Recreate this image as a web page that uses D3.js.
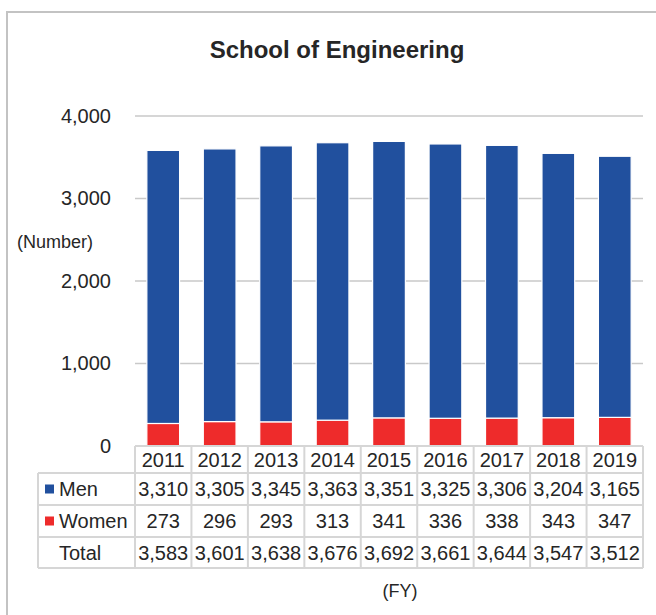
<!DOCTYPE html>
<html><head><meta charset="utf-8">
<script src="https://cdn.jsdelivr.net/npm/d3@7"></script>
<style>
html,body{margin:0;padding:0;background:#fff;}
text{font-family:"Liberation Sans",Arial,sans-serif;fill:#262626;}
</style></head>
<body>
<svg id="c" width="656" height="615"></svg>
<script>
const years = ["2011","2012","2013","2014","2015","2016","2017","2018","2019"];
const men = [3310,3305,3345,3363,3351,3325,3306,3204,3165];
const women = [273,296,293,313,341,336,338,343,347];
const totals = [3583,3601,3638,3676,3692,3661,3644,3547,3512];
const yTicks = [0,1000,2000,3000,4000];
const seriesNames = ["Men","Women"];
const colors = {Men:"#21509e", Women:"#ee2b2b"};

const svg = d3.select("#c");
const fmt = d3.format(",");

// outer frame
svg.append("path").attr("d","M7,615 V12 H656").attr("fill","none").attr("stroke","#c3c3c3").attr("stroke-width",2);

svg.append("text").attr("x",337).attr("y",58).attr("text-anchor","middle")
  .style("font-size","24px").style("font-weight","bold").text("School of Engineering");

const x = d3.scaleBand().domain(years).range([135,643]).paddingInner(0).paddingOuter(0);
const y = d3.scaleLinear().domain([0,4000]).range([446,116]);

// gridlines
svg.append("g").selectAll("line").data(yTicks.filter(d=>d>0)).join("line")
  .attr("x1",135).attr("x2",643).attr("y1",d=>y(d)).attr("y2",d=>y(d))
  .attr("stroke","#c9c9c9").attr("stroke-width",1.5);

// y axis labels
const yAxis = d3.axisLeft(y).tickValues(yTicks).tickFormat(fmt).tickSize(0).tickPadding(24);
const ga = svg.append("g").attr("transform","translate(135,0)").call(yAxis);
ga.select(".domain").remove();
ga.selectAll("text").style("font-size","20px").attr("fill","#262626")
  .style("font-family","'Liberation Sans',Arial,sans-serif");

svg.append("text").attr("x",17).attr("y",248).style("font-size","18px").text("(Number)");

// stacked bars
const rows = years.map((yr,i)=>({year:yr, Men:men[i], Women:women[i]}));
const stack = d3.stack().keys(["Women","Men"])(rows);
const bw = x.bandwidth()*0.58;
svg.append("g").selectAll("g").data(stack).join("g")
  .attr("fill",d=>colors[d.key])
  .selectAll("rect").data(d=>d).join("rect")
  .attr("x",d=>x(d.data.year)+(x.bandwidth()-bw)/2)
  .attr("width",bw)
  .attr("y",d=>y(d[1]))
  .attr("height",d=>y(d[0])-y(d[1]))
  .attr("stroke","#fff").attr("stroke-width",1.2);

// data table
const rowTop = [446,473,505,537,568];
const tbl = svg.append("g");
const lc = "#d6d6d6";
// horizontal lines
tbl.append("line").attr("x1",135).attr("x2",643).attr("y1",rowTop[0]).attr("y2",rowTop[0]).attr("stroke",lc).attr("stroke-width",2);
rowTop.slice(1).forEach(yy=>{
  tbl.append("line").attr("x1",38).attr("x2",643).attr("y1",yy).attr("y2",yy).attr("stroke",lc).attr("stroke-width",2);
});
// vertical lines
tbl.append("line").attr("x1",38).attr("x2",38).attr("y1",rowTop[1]).attr("y2",rowTop[4]).attr("stroke",lc).attr("stroke-width",2);
years.forEach(yr=>{
  tbl.append("line").attr("x1",x(yr)).attr("x2",x(yr)).attr("y1",rowTop[0]).attr("y2",rowTop[4]).attr("stroke",lc).attr("stroke-width",2);
});
tbl.append("line").attr("x1",643).attr("x2",643).attr("y1",rowTop[0]).attr("y2",rowTop[4]).attr("stroke",lc).attr("stroke-width",2);

const tableRows = [years, men.map(fmt), women.map(fmt), totals.map(fmt)];
tableRows.forEach((vals,r)=>{
  const cy = (rowTop[r]+rowTop[r+1])/2;
  tbl.append("g").selectAll("text").data(vals).join("text")
    .attr("x",(d,i)=>x(years[i])+x.bandwidth()/2)
    .attr("y",cy+7)
    .attr("text-anchor","middle").style("font-size","20px").text(d=>d);
});
const rowLabels = ["Men","Women","Total"];
rowLabels.forEach((lab,i)=>{
  const cy = (rowTop[i+1]+rowTop[i+2])/2;
  if (colors[lab]) {
    tbl.append("rect").attr("x",45).attr("y",cy-4.5).attr("width",9).attr("height",9).attr("fill",colors[lab]);
  }
  tbl.append("text").attr("x",59).attr("y",cy+7).style("font-size","20px").text(lab);
});

svg.append("text").attr("x",400).attr("y",597).attr("text-anchor","middle").style("font-size","18px").text("(FY)");
</script>
</body></html>
